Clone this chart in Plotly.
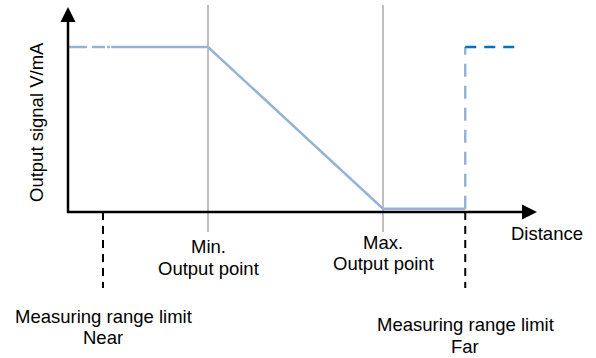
import plotly.graph_objects as go

# Distance positions along the measuring axis (arbitrary distance units)
near_limit = 1.0
min_point = 4.0
max_point = 9.0
far_limit = 11.35
beyond_far = 12.97
near_solid_start = 1.23
x_axis_end = 13.4

# Output signal levels (V/mA units)
out_high = 10.0
out_low = 0.2
y_axis_end = 12.42

# Scale: pixels per unit, and origin placement on the canvas
W, H = 596, 358
sx, sy = 35.0, 16.5
ox, oy = 68.0, 212.0

x_range = [-ox / sx, (W - ox) / sx]
y_range = [-(H - oy) / sy, oy / sy]

def px_x(p):
    return p / sx

def px_y(p):
    return p / sy

light_blue = "#95B3D7"
dark_blue = "#0070C0"
grey = "#BFBFBF"
font_family = "Liberation Sans, Arial, sans-serif"
font_size = 18.5

fig = go.Figure()

# Signal curve: near-limit dashed stub, plateau, falling ramp, low plateau
fig.add_trace(go.Scatter(
    x=[0, near_solid_start], y=[out_high, out_high], mode="lines",
    line=dict(color=light_blue, width=2.5, dash="19px,5px,13px,2px,3px,1px"),
    hoverinfo="skip"))
fig.add_trace(go.Scatter(
    x=[near_solid_start, min_point, max_point, far_limit],
    y=[out_high, out_high, out_low, out_low], mode="lines",
    line=dict(color=light_blue, width=2.5), hoverinfo="skip"))
fig.add_trace(go.Scatter(
    x=[far_limit, far_limit], y=[out_low, out_high], mode="lines",
    line=dict(color=light_blue, width=2.5, dash="13px,9px"), hoverinfo="skip"))
fig.add_trace(go.Scatter(
    x=[far_limit, beyond_far], y=[out_high, out_high], mode="lines",
    line=dict(color=dark_blue, width=2.5, dash="11px,8px"), hoverinfo="skip"))

shapes = []
# Grey reference lines at min/max output points
for xp in (min_point, max_point):
    shapes.append(dict(type="line", xref="x", yref="y", x0=xp, x1=xp,
                       y0=px_y(-20), y1=px_y(207),
                       line=dict(color=grey, width=2), layer="below"))
# Dashed markers for measuring range limits
for xp in (near_limit, far_limit):
    shapes.append(dict(type="line", xref="x", yref="y", x0=xp, x1=xp,
                       y0=0, y1=px_y(-76),
                       line=dict(color="black", width=2, dash="8px,6px")))
# Axes
head_len, head_half = 15, 7.5
shapes.append(dict(type="line", xref="x", yref="y", x0=0, x1=0,
                   y0=px_y(-1), y1=y_axis_end - px_y(head_len - 1),
                   line=dict(color="black", width=2.5)))
shapes.append(dict(type="line", xref="x", yref="y", x0=px_x(-1),
                   x1=x_axis_end - px_x(head_len - 1), y0=0, y1=0,
                   line=dict(color="black", width=2.5)))
# Arrowheads
yb = y_axis_end - px_y(head_len)
shapes.append(dict(type="path", xref="x", yref="y",
                   path=f"M {-px_x(head_half)},{yb} L {px_x(head_half)},{yb} L 0,{y_axis_end} Z",
                   fillcolor="black", line=dict(width=0)))
xb = x_axis_end - px_x(head_len)
shapes.append(dict(type="path", xref="x", yref="y",
                   path=f"M {xb},{-px_y(head_half)} L {xb},{px_y(head_half)} L {x_axis_end},0 Z",
                   fillcolor="black", line=dict(width=0)))

def label(text, x, y_px):
    # y_px: pixels below the distance axis
    return dict(text=text, x=x, y=-px_y(y_px), xref="x", yref="y",
                showarrow=False, xanchor="center", yanchor="middle",
                font=dict(family=font_family, size=font_size, color="black"))

annotations = [
    label("Min.", min_point, 34.5),
    label("Output point", min_point, 56),
    label("Max.", max_point, 30.5),
    label("Output point", max_point, 51),
    label("Measuring range limit", near_limit, 104),
    label("Near", near_limit, 125.5),
    label("Measuring range limit", far_limit, 112),
    label("Far", far_limit, 134),
    dict(text="Distance", x=px_x(547 - ox), y=-px_y(233 - oy), xref="x", yref="y",
         showarrow=False, xanchor="center", yanchor="middle",
         font=dict(family=font_family, size=font_size, color="black")),
    dict(text="Output signal V/mA", x=px_x(36 - ox), y=px_y(oy - 122), xref="x", yref="y",
         showarrow=False, textangle=-90, xanchor="center", yanchor="middle",
         font=dict(family=font_family, size=font_size, color="black")),
]

fig.update_layout(
    width=W, height=H,
    margin=dict(l=0, r=0, t=0, b=0),
    paper_bgcolor="white", plot_bgcolor="white",
    showlegend=False,
    xaxis=dict(range=x_range, visible=False, fixedrange=True),
    yaxis=dict(range=y_range, visible=False, fixedrange=True),
    shapes=shapes, annotations=annotations,
)

fig.write_html("out.html")
